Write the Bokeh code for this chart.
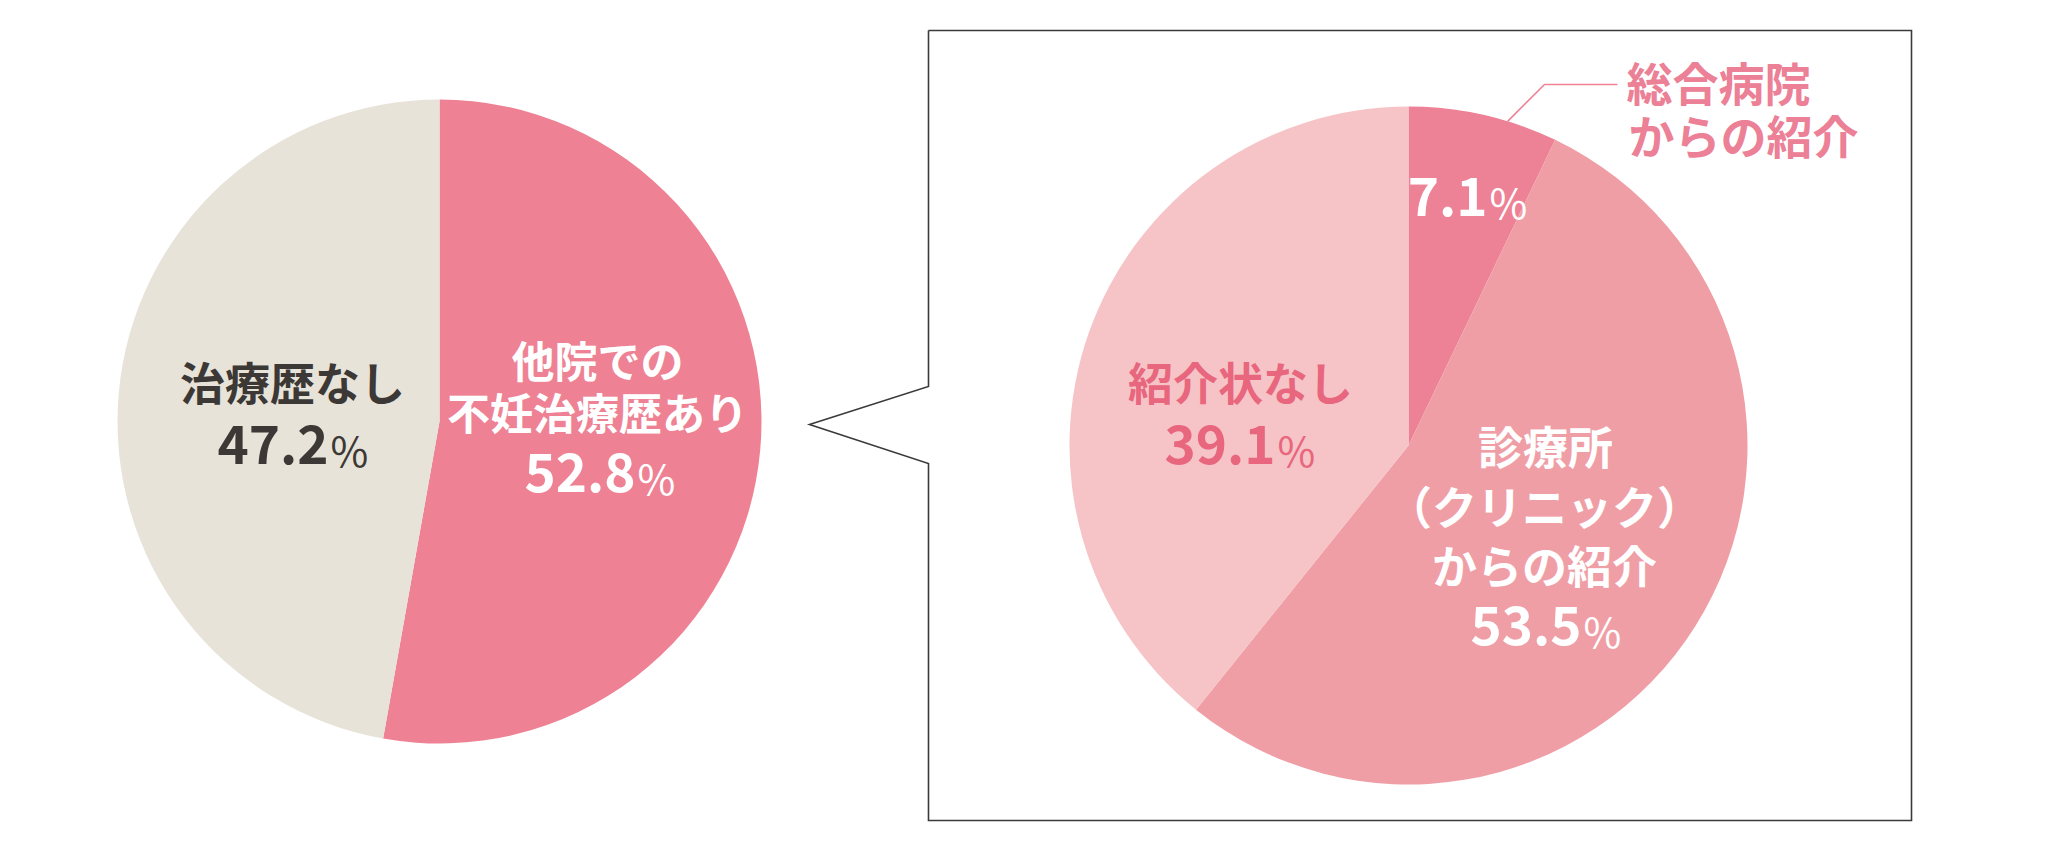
import math
from bokeh.plotting import figure
from bokeh.models import ColumnDataSource
from bokeh.core.properties import value
from bokeh.embed import file_html
from bokeh.resources import INLINE

# ---------------- data ----------------
left_categories = ["他院での不妊治療歴あり", "治療歴なし"]
left_values = [52.8, 47.2]
left_colors = ["#EE8294", "#E7E3D9"]

right_categories = ["総合病院からの紹介", "診療所（クリニック）からの紹介", "紹介状なし"]
right_values = [7.1, 53.5, 39.1]
right_colors = ["#ED8195", "#F09EA6", "#F6C4C6"]

# ---------------- layout ----------------
W, H = 2049, 834
FONT = "Noto Sans CJK JP"
K_BASE = 0.44  # baseline compensation (fraction of font size)


def X(x):  # reference px -> data
    return x


def Y(y):
    return H - y


p = figure(width=W, height=H, x_range=(0, W), y_range=(0, H),
           x_axis_location=None, y_axis_location=None, min_border=0,
           toolbar_location=None, output_backend="svg")
p.grid.visible = False
p.outline_line_color = None
p.background_fill_color = "white"


def pie(cx, cy, r, values, colors, cats):
    total = sum(values)
    starts, ends = [], []
    cum = 0.0
    for v in values:
        starts.append(math.pi / 2 - 2 * math.pi * cum / total)
        cum += v
        ends.append(math.pi / 2 - 2 * math.pi * cum / total)
    src = ColumnDataSource(dict(x=[X(cx)] * len(values), y=[Y(cy)] * len(values),
                                start=starts, end=ends, color=colors, cat=cats,
                                val=values))
    p.wedge(x="x", y="y", radius=r, start_angle="start", end_angle="end",
            direction="clock", fill_color="color", line_color=None, source=src)


LCX, LCY, LR = 439, 421, 322
RCX, RCY, RR = 1408, 445, 339
pie(LCX, LCY, LR, left_values, left_colors, left_categories)
pie(RCX, RCY, RR, right_values, right_colors, right_categories)

# callout box
bx = [928, 1911, 1911, 928, 928, 809, 928, 928]
by = [30, 30, 820, 820, 463, 424, 386, 30]
p.line([X(v) for v in bx], [Y(v) for v in by], line_color="#3a3a3a",
       line_width=1.6, line_join="miter")

# leader line for 総合病院
lead_ang = math.radians(17)
sx = RCX + RR * math.sin(lead_ang)
sy = RCY - RR * math.cos(lead_ang)
p.line([X(sx), X(1544), X(1617)], [Y(sy), Y(84), Y(84)],
       line_color="#EE8296", line_width=1.6)


def label(text, x, y, color, size, align="center", bold=True):
    p.text(x=[X(x)], y=[Y(y) + K_BASE * size], text=[text], text_color=color,
           text_font=value(FONT), text_font_size=f"{size}px",
           text_font_style="bold" if bold else "normal",
           text_align=align, text_baseline="alphabetic")


def pct(val, anchor_x, base_y, color, size=53, psize=41):
    label(f"{val:.1f}", anchor_x, base_y, color, size, align="right")
    label("%", anchor_x + 2, base_y, color, psize, align="left", bold=False)


DARK = "#3C3835"
WHITE = "#FFFFFF"
PINK_TXT = "#E8667E"
PINK_LBL = "#EC8096"

# left pie labels
label("治療歴なし", 292, 401, DARK, 45)
pct(left_values[1], 328, 467, DARK)
label("他院での", 597, 377, WHITE, 43)
label("不妊治療歴あり", 597, 429, WHITE, 43)
pct(left_values[0], 635, 495, WHITE)

# right pie labels
pct(right_values[0], 1487, 219, WHITE)
label("総合病院", 1626, 101, PINK_LBL, 46, align="left")
label("からの紹介", 1628, 154, PINK_LBL, 46, align="left")
label("紹介状なし", 1240, 401, PINK_TXT, 45)
pct(right_values[2], 1275, 467, PINK_TXT)
label("診療所", 1545, 465, WHITE, 45)
label("（クリニック）", 1544, 525, WHITE, 45)
label("からの紹介", 1544, 584, WHITE, 45)
pct(right_values[1], 1581, 648, WHITE)

open("out.html", "w").write(file_html(p, INLINE))
